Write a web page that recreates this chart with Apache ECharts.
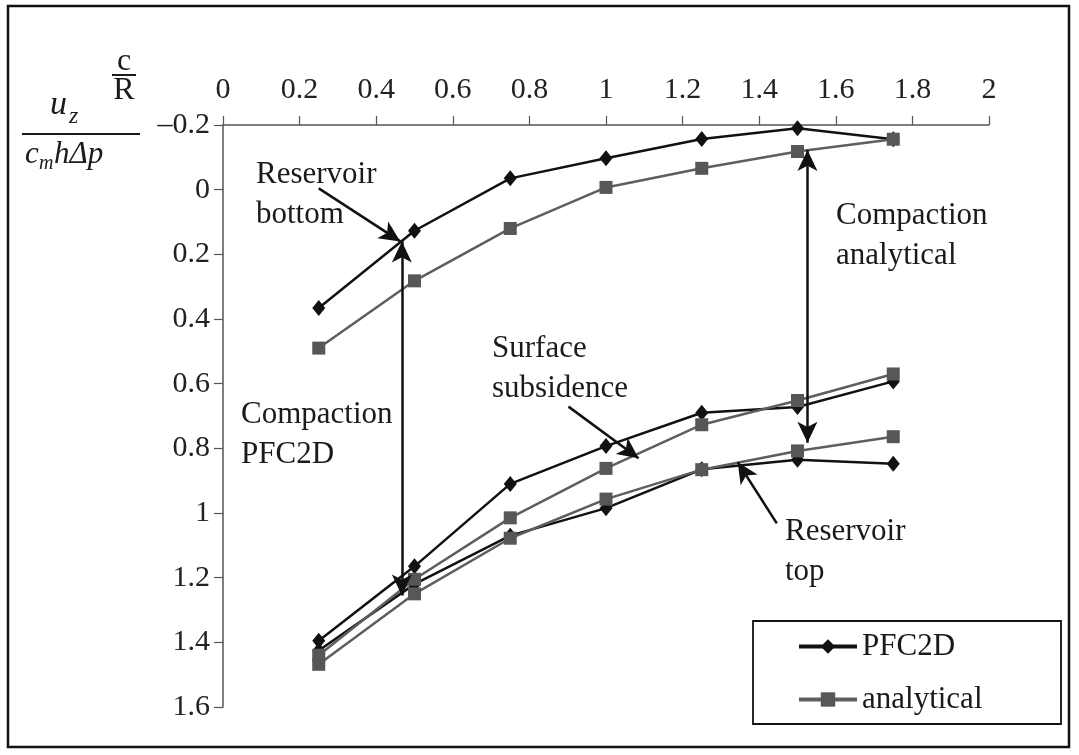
<!DOCTYPE html>
<html>
<head>
<meta charset="utf-8">
<script src="https://cdn.jsdelivr.net/npm/echarts@6/dist/echarts.min.js"></script>
<style>
html,body{margin:0;padding:0;background:#fff;}
#chart{width:1079px;height:755px;}
</style>
</head>
<body>
<div id="chart"></div>
<script>
// ---- data ----
const xValues = [0.25, 0.5, 0.75, 1, 1.25, 1.5, 1.75];
const pfcBottom  = [0.366, 0.127, -0.035, -0.097, -0.157, -0.19, -0.156];
const anaBottom  = [0.49, 0.282, 0.12, -0.007, -0.066, -0.118, -0.156];
const pfcSurface = [1.395, 1.165, 0.91, 0.793, 0.69, 0.672, 0.593];
const anaSurface = [1.44, 1.205, 1.015, 0.862, 0.727, 0.652, 0.57];
const pfcTop     = [1.425, 1.22, 1.07, 0.985, 0.865, 0.835, 0.848];
const anaTop     = [1.468, 1.25, 1.078, 0.957, 0.866, 0.808, 0.764];
const seriesNames = ['PFC2D', 'analytical'];
const xTicks = { min: 0, max: 2, interval: 0.2 };
const yTicks = { min: -0.2, max: 1.6, interval: 0.2 };

// annotation arrows in data coordinates: [x1, y1, x2, y2, bothEnds]
const arrows = [
  [0.25, -0.004, 0.463, 0.16, false],   // Reservoir bottom
  [0.467, 0.16, 0.467, 1.255, true],    // Compaction PFC2D
  [1.526, -0.123, 1.526, 0.783, true],  // Compaction analytical
  [0.902, 0.671, 1.085, 0.831, false],  // Surface subsidence
  [1.446, 1.032, 1.344, 0.843, false]   // Reservoir top
];

const FONT = '"Liberation Serif", "DejaVu Serif", "Times New Roman", serif';
const pairs = ys => xValues.map((x, i) => [x, ys[i]]);

const pfcStyle = {
  type: 'line', name: 'PFC2D', symbol: 'diamond', symbolSize: [13, 16],
  lineStyle: { color: '#111', width: 2.5 }, itemStyle: { color: '#111' },
  z: 3, silent: true
};
const anaStyle = {
  type: 'line', name: 'analytical', symbol: 'rect', symbolSize: 13,
  lineStyle: { color: '#5e5e5e', width: 2.5 }, itemStyle: { color: '#575757' },
  z: 4, silent: true
};

const markLineData = arrows.map(a => [
  { coord: [a[0], a[1]], symbol: a[4] ? 'arrow' : 'none' },
  { coord: [a[2], a[3]], symbol: 'arrow' }
]);

const series = [
  Object.assign({}, pfcStyle, { data: pairs(pfcBottom),
    markLine: { silent: true, symbolSize: [15, 21], precision: 4,
      lineStyle: { color: '#111', width: 2.5, type: 'solid' },
      itemStyle: { color: '#111' },
      label: { show: false }, emphasis: { disabled: true }, data: markLineData } }),
  Object.assign({}, pfcStyle, { data: pairs(pfcSurface) }),
  Object.assign({}, pfcStyle, { data: pairs(pfcTop) }),
  Object.assign({}, anaStyle, { data: pairs(anaBottom) }),
  Object.assign({}, anaStyle, { data: pairs(anaSurface) }),
  Object.assign({}, anaStyle, { data: pairs(anaTop) })
];

function txt(text, x, y, size, extra) {
  return {
    type: 'text', x: x, y: y, silent: true,
    style: {
      text: text, font: (extra && extra.italic ? 'italic ' : '') + size + 'px ' + FONT,
      fill: '#1a1a1a', textAlign: (extra && extra.align) || 'left',
      textVerticalAlign: 'middle', lineHeight: 40
    }
  };
}
function block(lines, x, y) {
  return lines.map((l, i) => txt(l, x, y + i * 40, 31));
}

const graphic = [
  // outer frame
  { type: 'rect', shape: { x: 8, y: 6, width: 1061, height: 741 }, silent: true,
    style: { fill: 'none', stroke: '#111', lineWidth: 2.5 } },
  // legend box
  { type: 'rect', shape: { x: 753, y: 621, width: 308, height: 103 }, silent: true,
    style: { fill: 'none', stroke: '#111', lineWidth: 1.8 } },
  // y-axis name: u_z / (c_m h Δp)
  txt('u', 50, 105, 34, { italic: true }),
  txt('z', 69, 117, 24, { italic: true }),
  { type: 'line', shape: { x1: 22, y1: 134, x2: 140, y2: 134 }, silent: true,
    style: { stroke: '#1a1a1a', lineWidth: 2.2 } },
  txt('c', 25, 155, 31, { italic: true }),
  txt('m', 39, 164, 20, { italic: true }),
  txt('h\u0394p', 54, 155, 31, { italic: true }),
  // x-axis name: c / R
  txt('c', 124, 62, 32, { align: 'center' }),
  { type: 'line', shape: { x1: 112, y1: 75, x2: 136, y2: 75 }, silent: true,
    style: { stroke: '#1a1a1a', lineWidth: 2 } },
  txt('R', 124, 91, 32, { align: 'center' })
]
.concat(block(['Reservoir', 'bottom'], 256, 175))
.concat(block(['Compaction', 'analytical'], 836, 216))
.concat(block(['Surface', 'subsidence'], 492, 349))
.concat(block(['Compaction', 'PFC2D'], 241, 415))
.concat(block(['Reservoir', 'top'], 785, 532));

const option = {
  animation: false,
  backgroundColor: '#fff',
  grid: { left: 223, right: 90, top: 125, bottom: 48, containLabel: false, outerBoundsMode: 'none' },
  legend: {
    data: seriesNames, orient: 'vertical', left: 797, top: 631,
    padding: 0, itemWidth: 58, itemHeight: 18, itemGap: 22, selectedMode: false,
    lineStyle: { width: 4 },
    textStyle: { fontFamily: FONT, fontSize: 31, color: '#1a1a1a', lineHeight: 30 }
  },
  xAxis: {
    type: 'value', position: 'top', min: xTicks.min, max: xTicks.max, interval: xTicks.interval,
    axisLine: { show: true, onZero: false, lineStyle: { color: '#555', width: 1.5 } },
    axisTick: { show: true, length: 9, lineStyle: { color: '#555', width: 1.2 } },
    splitLine: { show: false },
    axisLabel: { fontFamily: FONT, fontSize: 30, color: '#222', margin: 20 }
  },
  yAxis: {
    type: 'value', inverse: true, min: yTicks.min, max: yTicks.max, interval: yTicks.interval,
    axisLine: { show: true, onZero: false, lineStyle: { color: '#555', width: 1.5 } },
    axisTick: { show: true, length: 9, lineStyle: { color: '#555', width: 1.2 } },
    splitLine: { show: false },
    axisLabel: {
      fontFamily: FONT, fontSize: 30, color: '#222', margin: 13,
      formatter: v => (v < 0 ? '\u2013' + String(-Math.round(v * 10) / 10) : String(Math.round(v * 10) / 10))
    }
  },
  series: series,
  graphic: graphic
};

const chart = echarts.init(document.getElementById('chart'), null, { renderer: 'canvas' });
chart.setOption(option);
</script>
</body>
</html>
